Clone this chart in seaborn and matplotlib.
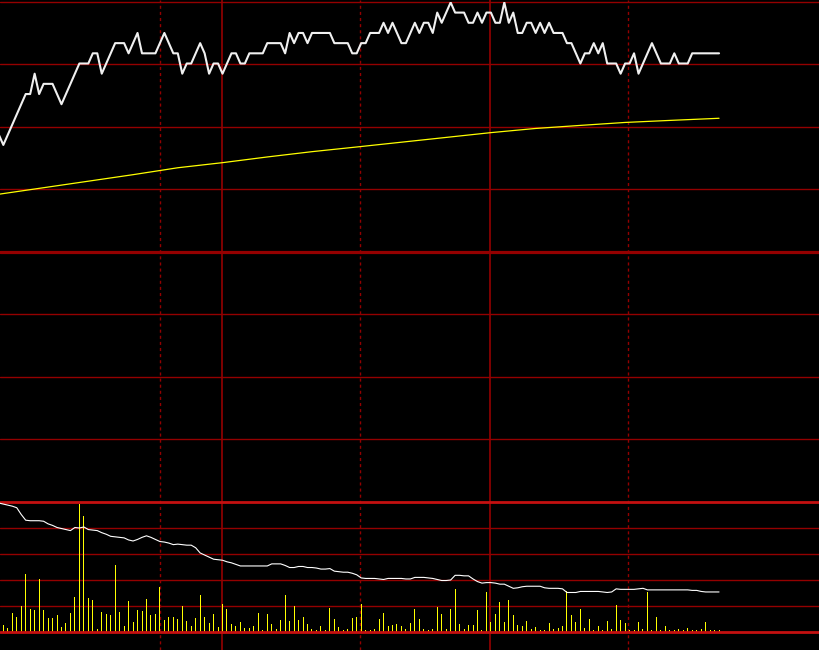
import numpy as np
import matplotlib
matplotlib.use("Agg")
import matplotlib.pyplot as plt
import seaborn as sns

# last price per minute
price = [8.31, 8.30, 8.31, 8.32, 8.33, 8.34, 8.35, 8.35, 8.37, 8.35,
         8.36, 8.36, 8.36, 8.35, 8.34, 8.35, 8.36, 8.37, 8.38, 8.38,
         8.38, 8.39, 8.39, 8.37, 8.38, 8.39, 8.40, 8.40, 8.40, 8.39,
         8.40, 8.41, 8.39, 8.39, 8.39, 8.39, 8.40, 8.41, 8.40, 8.39,
         8.39, 8.37, 8.38, 8.38, 8.39, 8.40, 8.39, 8.37, 8.38, 8.38,
         8.37, 8.38, 8.39, 8.39, 8.38, 8.38, 8.39, 8.39, 8.39, 8.39,
         8.40, 8.40, 8.40, 8.40, 8.39, 8.41, 8.40, 8.41, 8.41, 8.40,
         8.41, 8.41, 8.41, 8.41, 8.41, 8.40, 8.40, 8.40, 8.40, 8.39,
         8.39, 8.40, 8.40, 8.41, 8.41, 8.41, 8.42, 8.41, 8.42, 8.41,
         8.40, 8.40, 8.41, 8.42, 8.41, 8.42, 8.42, 8.41, 8.43, 8.42,
         8.43, 8.44, 8.43, 8.43, 8.43, 8.42, 8.42, 8.43, 8.42, 8.43,
         8.43, 8.42, 8.42, 8.44, 8.42, 8.43, 8.41, 8.41, 8.42, 8.42,
         8.41, 8.42, 8.41, 8.42, 8.41, 8.41, 8.41, 8.40, 8.40, 8.39,
         8.38, 8.39, 8.39, 8.40, 8.39, 8.40, 8.38, 8.38, 8.38, 8.37,
         8.38, 8.38, 8.39, 8.37, 8.38, 8.39, 8.40, 8.39, 8.38, 8.38,
         8.38, 8.39, 8.38, 8.38, 8.38, 8.39, 8.39, 8.39, 8.39, 8.39,
         8.39, 8.39]

# average price line, read every ten minutes
avg_minutes = [0, 10, 20, 30, 40, 50, 60, 70, 80, 90, 100, 110, 120, 130, 140, 150, 160, 161]
avg_price = [8.2516, 8.2580, 8.2644, 8.2708, 8.2776, 8.2826, 8.2882, 8.2934, 8.2980,
             8.3027, 8.3074, 8.3121, 8.3162, 8.3192, 8.3221, 8.3241, 8.3260, 8.3262]

# volume per minute (lots), minutes 1..161
vol = [350, 200, 950, 750, 1300, 2900, 1150, 1100, 2650, 1100,
       700, 700, 850, 250, 450, 950, 1750, 6400, 5800, 1700,
       1600, 150, 1000, 900, 850, 3350, 1000, 300, 1550, 500,
       1100, 1050, 1650, 850, 900, 2250, 600, 750, 750, 650,
       1300, 550, 300, 700, 1850, 750, 450, 900, 250, 1400,
       1150, 400, 300, 500, 200, 200, 300, 950, 100, 900,
       400, 150, 600, 1850, 550, 1300, 600, 750, 400, 150,
       100, 300, 100, 1200, 650, 250, 100, 150, 700, 750,
       1400, 100, 100, 150, 650, 950, 300, 350, 400, 300,
       150, 450, 1150, 650, 150, 100, 150, 1250, 900, 150,
       1150, 2150, 400, 150, 350, 350, 1100, 100, 2000, 500,
       900, 1500, 500, 1600, 850, 350, 300, 550, 150, 250,
       100, 100, 450, 150, 200, 300, 2050, 850, 500, 1150,
       200, 650, 100, 300, 100, 550, 150, 1350, 600, 450,
       100, 100, 500, 150, 2000, 100, 750, 100, 300, 100,
       100, 150, 100, 200, 100, 100, 150, 500, 100, 100, 100]

# volume ratio line in the lower pane
ratio = [2.48, 2.46, 2.44, 2.42, 2.39, 2.26, 2.15, 2.14, 2.14, 2.14,
         2.13, 2.08, 2.05, 2.01, 1.99, 1.97, 1.95, 2.01, 2.00, 2.02,
         1.97, 1.96, 1.95, 1.91, 1.88, 1.84, 1.83, 1.82, 1.81, 1.77,
         1.75, 1.78, 1.82, 1.85, 1.82, 1.78, 1.74, 1.73, 1.71, 1.68,
         1.69, 1.68, 1.67, 1.67, 1.62, 1.52, 1.48, 1.44, 1.40, 1.39,
         1.38, 1.35, 1.33, 1.30, 1.27, 1.27, 1.27, 1.27, 1.27, 1.27,
         1.27, 1.31, 1.31, 1.31, 1.28, 1.24, 1.24, 1.26, 1.26, 1.24,
         1.24, 1.23, 1.21, 1.21, 1.22, 1.17, 1.16, 1.15, 1.15, 1.13,
         1.10, 1.04, 1.03, 1.03, 1.03, 1.02, 1.01, 1.03, 1.03, 1.03,
         1.03, 1.02, 1.02, 1.05, 1.05, 1.05, 1.04, 1.03, 1.01, 0.99,
         0.99, 1.00, 1.09, 1.09, 1.08, 1.08, 1.02, 0.97, 0.94, 0.95,
         0.95, 0.94, 0.92, 0.92, 0.88, 0.84, 0.85, 0.87, 0.88, 0.88,
         0.88, 0.88, 0.85, 0.84, 0.84, 0.84, 0.83, 0.76, 0.76, 0.76,
         0.78, 0.78, 0.78, 0.78, 0.78, 0.77, 0.76, 0.77, 0.83, 0.82,
         0.82, 0.82, 0.82, 0.83, 0.84, 0.81, 0.81, 0.81, 0.81, 0.81,
         0.81, 0.81, 0.81, 0.81, 0.81, 0.80, 0.80, 0.78, 0.77, 0.77,
         0.77, 0.77]

prev_close = 8.195
half_range = 0.2457
vol_max = 6500
ratio_max = 2.5

minutes = np.arange(len(price))
vol_minutes = np.arange(1, len(vol) + 1)

x_lo, x_hi = 0.255, 183.57
solid_x = [49.95, 109.9]
dashed_x = [36.03, 80.8, 140.7]

GRID = "#940000"
THICK = "#c41010"

sns.set_theme(style="dark", rc={"figure.facecolor": "black", "axes.facecolor": "black"})

fig = plt.figure(figsize=(8.2, 6.5), dpi=100)
H = 650.0


def rect(top, bottom):
    return [0, 1 - bottom / H, 1, (bottom - top) / H]


# full-height vertical time lines
ax_bg = fig.add_axes([0, 0, 1, 1])
ax_bg.set_xlim(x_lo, x_hi)
for x in solid_x:
    ax_bg.axvline(x, color=GRID, lw=1.2)
for x in dashed_x:
    ax_bg.axvline(x, color=GRID, lw=1.0, ls=(0, (2.2, 2.2)))
ax_bg.set_axis_off()

# price pane
ax_p = fig.add_axes(rect(1.7, 502))
ax_p.set_facecolor("none")
for k in range(-3, 5):
    lw = 2.3 if k == 0 else 1.0
    ax_p.axhline(prev_close + k * half_range / 4, color=GRID, lw=lw, zorder=1, clip_on=False)
sns.lineplot(x=avg_minutes, y=avg_price, ax=ax_p, color="#ffff00", lw=0.9, zorder=3)
sns.lineplot(x=minutes, y=price, ax=ax_p, color="#f0f0f0", lw=1.5, zorder=4)
ax_p.set_xlim(x_lo, x_hi)
ax_p.set_ylim(prev_close - half_range, prev_close + half_range)
ax_p.set_axis_off()

# volume pane
ax_v = fig.add_axes(rect(502, 632))
ax_v.set_facecolor("none")
sns.barplot(x=vol_minutes, y=vol, ax=ax_v, native_scale=True, width=0.2236,
            color="#ffff00", saturation=1, linewidth=0, errorbar=None, zorder=2)
for p in ax_v.patches:
    p.set_antialiased(False)
for k in range(1, 5):
    ax_v.axhline(k * vol_max / 5, color=GRID, lw=1.0, zorder=1)
ax_v.axhline(0, color=THICK, lw=2.0, zorder=5, clip_on=False)
ax_v.axhline(vol_max, color=THICK, lw=2.0, zorder=5, clip_on=False)
ax_v.set_xlim(x_lo, x_hi)
ax_v.set_ylim(0, vol_max)
ax_v.set_axis_off()

ax_r = ax_v.twinx()
sns.lineplot(x=minutes, y=ratio, ax=ax_r, color="white", lw=0.8)
ax_r.set_xlim(x_lo, x_hi)
ax_r.set_ylim(0, ratio_max)
ax_r.set_axis_off()

fig.savefig("out.png", dpi=100, facecolor="black")
